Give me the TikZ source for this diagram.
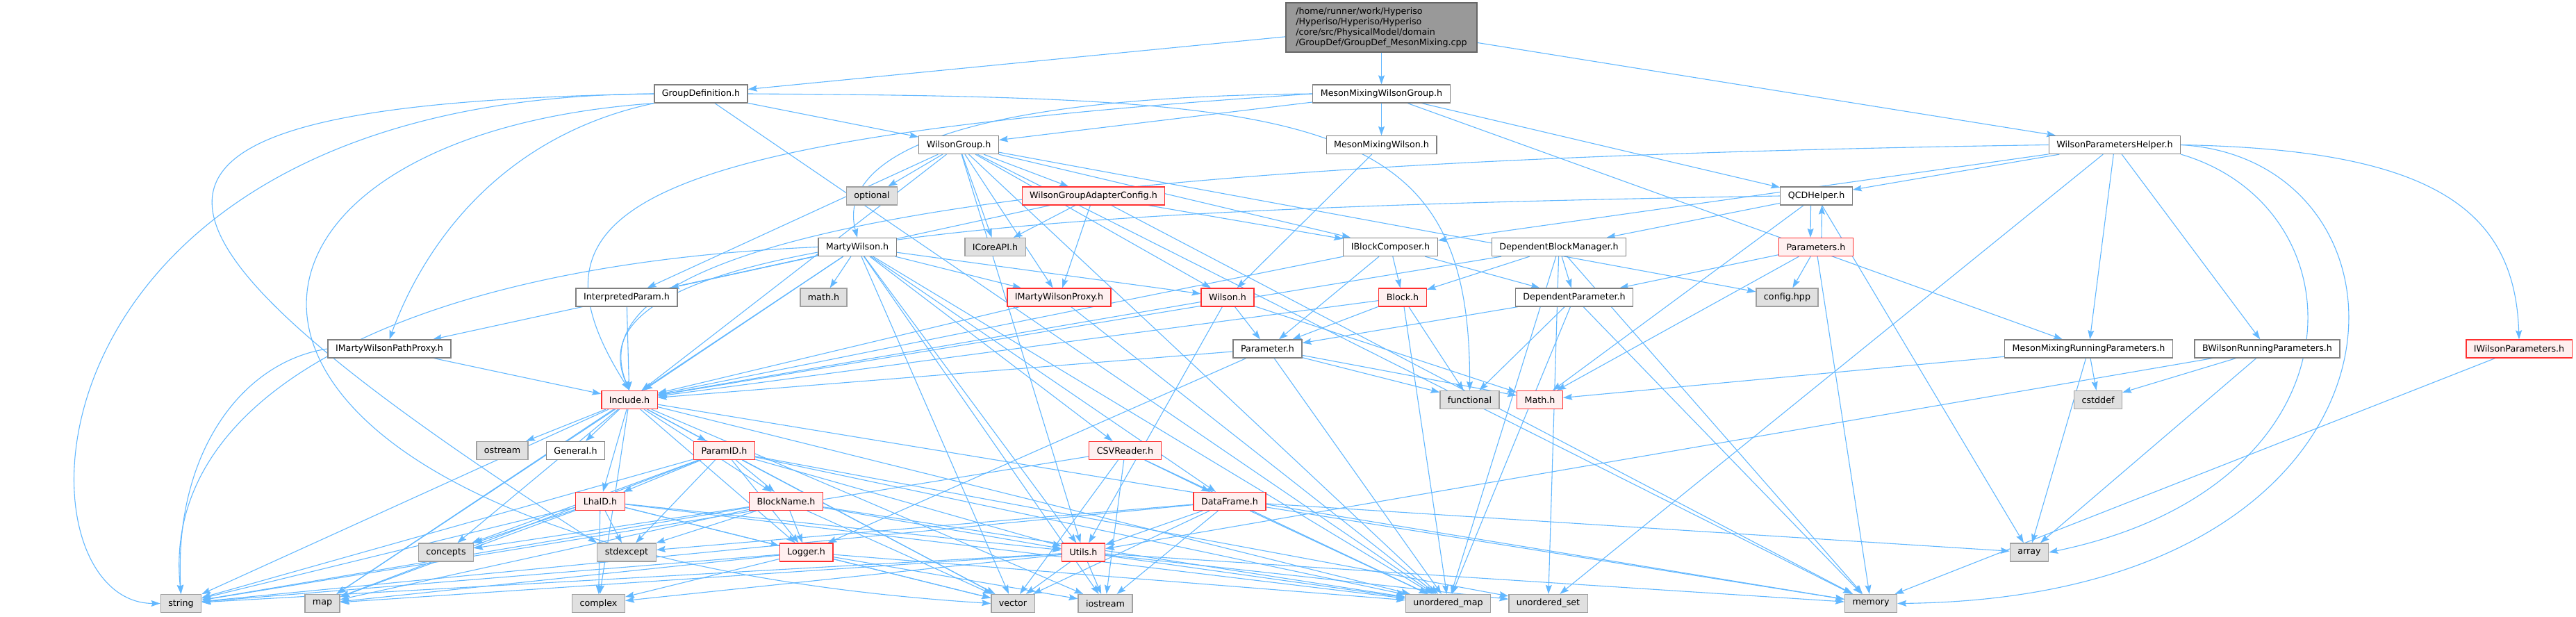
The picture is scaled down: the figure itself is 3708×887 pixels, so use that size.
\documentclass[tikz,border=0pt]{standalone}
\usepackage{fontspec}
\setmainfont{DejaVu Sans}
\usetikzlibrary{arrows.meta,backgrounds}

\definecolor{edgeblue}{HTML}{63B8FF}
\definecolor{hdrline}{HTML}{808080}
\definecolor{sysline}{HTML}{A0A0A0}
\definecolor{sysfill}{HTML}{E0E0E0}
\definecolor{cutline}{HTML}{FF3030}
\definecolor{cutfill}{HTML}{FFF0F0}
\definecolor{rootline}{HTML}{666666}
\definecolor{rootfill}{HTML}{999999}

\tikzset{
  hdr/.style={draw=hdrline,fill=white,line width=1.3pt,minimum height=26pt,
    inner xsep=11pt,inner ysep=0pt,font=\fontsize{12.7}{15}\selectfont},
  sys/.style={hdr,draw=sysline,fill=sysfill},
  cut/.style={hdr,draw=cutline,fill=cutfill},
  rootf/.style={hdr,draw=rootline,fill=rootfill,align=left,minimum width=275pt,minimum height=71pt},
  incl/.style={draw=edgeblue,line width=1.1pt,-{Stealth[length=13pt,width=9pt,inset=2pt]}}
}

\begin{document}
\begin{tikzpicture}[x=1pt,y=-1pt]
\useasboundingbox (0,0) rectangle (3708,887);
%Files
\node[rootf] (root) at (1988.5,39.5) {/home/runner/work/Hyperiso\\/Hyperiso/Hyperiso/Hyperiso\\/core/src/PhysicalModel/domain\\/GroupDef/GroupDef\_MesonMixing.cpp};
\node[hdr] (gdef) at (1009,135) {GroupDefinition.h};
\node[hdr] (mmwg) at (1988.5,135) {MesonMixingWilsonGroup.h};
\node[hdr] (wgrp) at (1380,208.5) {WilsonGroup.h};
\node[hdr] (mmw) at (1988.5,208.5) {MesonMixingWilson.h};
\node[hdr] (wph) at (3044,208.5) {WilsonParametersHelper.h};
\node[sys] (opt) at (1255,282) {optional};
\node[cut] (wgac) at (1574,282) {WilsonGroupAdapterConfig.h};
\node[hdr] (qcd) at (2614.5,282) {QCDHelper.h};
\node[hdr] (marty) at (1234,355.5) {MartyWilson.h};
\node[sys] (icore) at (1432.5,355.5) {ICoreAPI.h};
\node[hdr] (iblock) at (2001.5,355.5) {IBlockComposer.h};
\node[hdr] (dbm) at (2244,355.5) {DependentBlockManager.h};
\node[cut] (params) at (2614,355.5) {Parameters.h};
\node[hdr] (interp) at (902,428) {InterpretedParam.h};
\node[sys] (mathh) at (1185.5,428) {math.h};
\node[cut] (imwp) at (1524.5,428) {IMartyWilsonProxy.h};
\node[cut] (wilson) at (1767,428) {Wilson.h};
\node[cut] (block) at (2019,428) {Block.h};
\node[hdr] (depparam) at (2266,428) {DependentParameter.h};
\node[sys] (config) at (2572.5,428) {config.hpp};
\node[hdr] (imwpp) at (560.5,502) {IMartyWilsonPathProxy.h};
\node[hdr] (param) at (1824.5,502) {Parameter.h};
\node[hdr] (mmrp) at (3006.5,502) {MesonMixingRunningParameters.h};
\node[hdr] (bwrp) at (3263.5,502) {BWilsonRunningParameters.h};
\node[cut] (iwp) at (3626,502) {IWilsonParameters.h};
\node[cut] (include) at (906,575.5) {Include.h};
\node[sys] (func) at (2115.5,575.5) {functional};
\node[cut] (mathx) at (2216.5,575.5) {Math.h};
\node[sys] (cstd) at (3020,575.5) {cstddef};
\node[sys] (ostr) at (723,648.5) {ostream};
\node[hdr] (general) at (828.5,648.5) {General.h};
\node[cut] (paramid) at (1042.5,648.5) {ParamID.h};
\node[cut] (csv) at (1619.5,648.5) {CSVReader.h};
\node[cut] (lhaid) at (864,721.5) {LhaID.h};
\node[cut] (blockname) at (1131.5,721.5) {BlockName.h};
\node[cut] (dataframe) at (1770,721.5) {DataFrame.h};
\node[sys] (conc) at (642,795) {concepts};
\node[sys] (stdex) at (902,795) {stdexcept};
\node[cut] (logger) at (1160.5,795) {Logger.h};
\node[cut] (utils) at (1559.5,795) {Utils.h};
\node[sys] (arr) at (2921,795) {array};
\node[sys] (str) at (260.5,868.5) {string};
\node[sys] (mapp) at (464,868.5) {map};
\node[sys] (cplx) at (861.5,868.5) {complex};
\node[sys] (vec) at (1458,868.5) {vector};
\node[sys] (iostr) at (1591,868.5) {iostream};
\node[sys] (umap) at (2084.5,868.5) {unordered\_map};
\node[sys] (uset) at (2228.5,868.5) {unordered\_set};
\node[sys] (mem) at (2693,868.5) {memory};

\begin{pgfonlayer}{background}
%Includes
\foreach \dst in {gdef,mmwg,wph} \draw[incl] (root) -- (\dst);
\draw[incl] (gdef.west) .. controls (10,140) and (10,868) .. (str.west);
\draw[incl] (gdef.west) .. controls (109,150) and (109,300) .. (stdex.north west);
\draw[incl] (gdef.south west) .. controls (210,200) and (210,790) .. (vec.west);
\draw[incl] (gdef.south west) .. controls (700,200) and (600,380) .. (imwpp.north);
\draw[incl] (gdef.east) .. controls (1900,140) and (2117,160) .. (func.north);
\foreach \dst in {wgrp,umap} \draw[incl] (gdef) -- (\dst);
\foreach \dst in {wgrp,mmw,qcd,mmrp} \draw[incl] (mmwg) -- (\dst);
\draw[incl] (mmwg.west) .. controls (1300,140) and (1210,250) .. (marty.north);
\draw[incl] (mmwg.west) .. controls (900,200) and (740,300) .. (include.north);
\foreach \dst in {qcd,iblock,mmrp,bwrp,uset} \draw[incl] (wph) -- (\dst);
\draw[incl] (wph.west) .. controls (1500,230) and (810,330) .. (include.north);
\draw[incl] (wph.east) .. controls (3500,215) and (3620,300) .. (iwp.north);
\draw[incl] (wph.south east) .. controls (3405,300) and (3410,700) .. (arr.east);
\draw[incl] (wph.east) .. controls (3510,230) and (3510,860) .. (mem.east);
\foreach \dst in {opt,icore,wgac,imwp,wilson,iblock,interp,include,config,umap,mem,utils} \draw[incl] (wgrp) -- (\dst);
\draw[incl] (mmw) -- (wilson);
\foreach \dst in {icore,imwp,iblock,mem,interp} \draw[incl] (wgac) -- (\dst);
\foreach \dst in {dbm,mathx,arr} \draw[incl] (qcd) -- (\dst);
\draw[incl] (qcd.west) .. controls (1500,300) and (806,340) .. (include.north);
\draw[incl] ([xshift=-8pt]qcd.south) -- ([xshift=-8pt]params.north);
\draw[incl] ([xshift=8pt]params.north) -- ([xshift=8pt]qcd.south);
\foreach \dst in {config,mem,depparam,mathx} \draw[incl] (params) -- (\dst);
\foreach \dst in {wilson,imwp,interp,mathh,imwpp,mapp,vec,iostr,utils,csv,dataframe,umap,include} \draw[incl] (marty) -- (\dst);
\draw[incl] (marty.west) .. controls (600,380) and (230,560) .. (str.north);
\foreach \dst in {param,block,depparam,include} \draw[incl] (iblock) -- (\dst);
\foreach \dst in {block,depparam,include,mem,umap,uset} \draw[incl] (dbm) -- (\dst);
\draw[incl] (interp) -- (include);
\foreach \dst in {include,umap} \draw[incl] (imwp) -- (\dst);
\foreach \dst in {param,mathx,include,utils} \draw[incl] (wilson) -- (\dst);
\foreach \dst in {param,func,include,umap} \draw[incl] (block) -- (\dst);
\foreach \dst in {param,func,mem,umap} \draw[incl] (depparam) -- (\dst);
\draw[incl] (imwpp) -- (include);
\draw[incl] (imwpp.west) .. controls (350,520) and (250,650) .. (str.north);
\foreach \dst in {include,func,mathx,logger,umap} \draw[incl] (param) -- (\dst);
\foreach \dst in {mathx,cstd,arr} \draw[incl] (mmrp) -- (\dst);
\foreach \dst in {cstd,arr,utils} \draw[incl] (bwrp) -- (\dst);
\draw[incl] (iwp) -- (mem);
\foreach \dst in {ostr,general,paramid,lhaid,blockname,logger,conc,str,mapp,cplx,vec,umap,mem,iostr} \draw[incl] (include) -- (\dst);
\foreach \dst in {lhaid,blockname,logger,conc,stdex,str,mapp,utils,umap,vec,uset} \draw[incl] (paramid) -- (\dst);
\foreach \dst in {conc,stdex,logger,str,mapp,cplx,utils,umap,vec} \draw[incl] (lhaid) -- (\dst);
\foreach \dst in {stdex,logger,conc,str,mapp,utils,umap,vec} \draw[incl] (blockname) -- (\dst);
\foreach \dst in {str,mapp,vec,iostr,cplx,umap} \draw[incl] (logger) -- (\dst);
\foreach \dst in {vec,iostr,umap,uset,str,mapp,cplx,mem} \draw[incl] (utils) -- (\dst);
\foreach \dst in {dataframe,str,iostr,vec,umap} \draw[incl] (csv) -- (\dst);
\foreach \dst in {utils,str,vec,iostr,umap,arr,stdex,mem} \draw[incl] (dataframe) -- (\dst);
\end{pgfonlayer}
\end{tikzpicture}
\end{document}
